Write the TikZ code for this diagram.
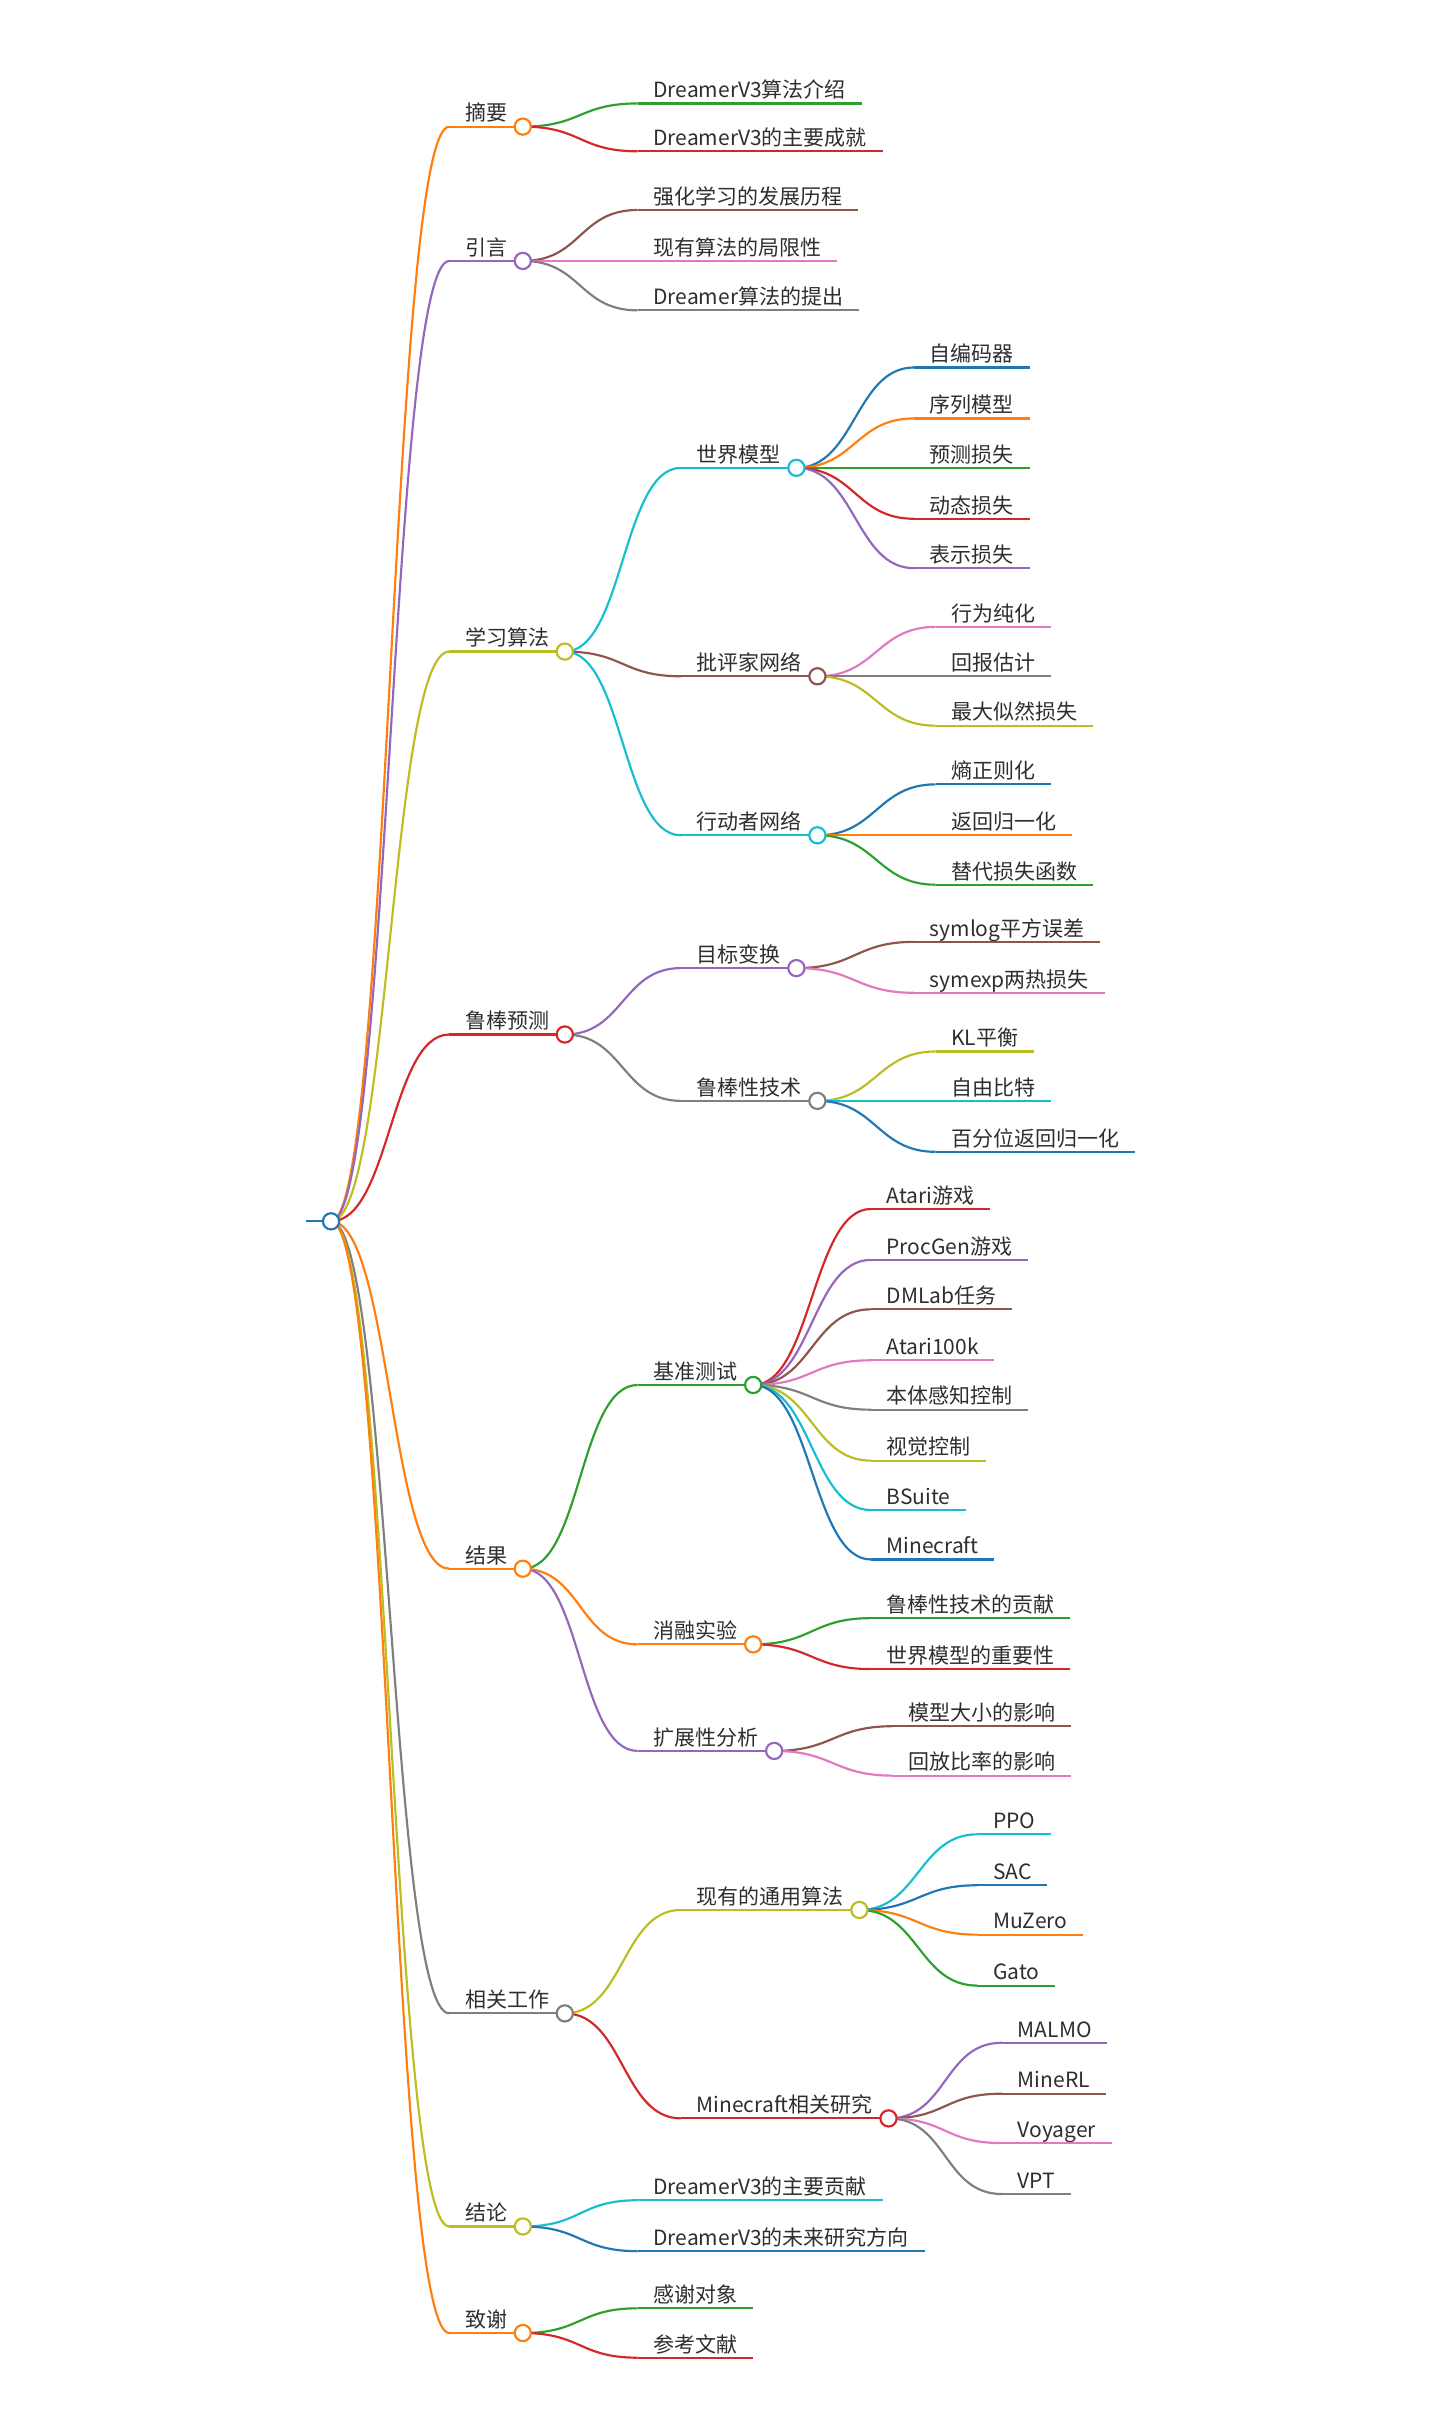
\documentclass[tikz,border=0pt]{standalone}
\usepackage{fontspec}
\newfontfamily\cjk{Noto Sans CJK SC}
\definecolor{mmblue}{HTML}{1F77B4}
\definecolor{mmorange}{HTML}{FF7F0E}
\definecolor{mmgreen}{HTML}{2CA02C}
\definecolor{mmred}{HTML}{D62728}
\definecolor{mmpurple}{HTML}{9467BD}
\definecolor{mmbrown}{HTML}{8C564B}
\definecolor{mmpink}{HTML}{E377C2}
\definecolor{mmgray}{HTML}{7F7F7F}
\definecolor{mmolive}{HTML}{BCBD22}
\definecolor{mmcyan}{HTML}{17BECF}
\definecolor{textgray}{HTML}{2E2E2E}

\begin{document}
\begin{tikzpicture}[x=1pt,y=-1pt,
mmnode/.style={anchor=south west, font=\cjk\fontsize{13.6}{16}\selectfont, text=textgray,
  inner xsep=10pt, inner ysep=3.5pt, text height=11pt, text depth=0pt},
mmline/.style={line width=1.4pt, draw=#1},
mmlink/.style={line width=1.4pt, draw=#1},
mmdot/.style={circle, draw=#1, fill=white, line width=1.4pt, minimum size=10.5pt, inner sep=0pt},]
\useasboundingbox (0,0) rectangle (933,1568);

\node[mmnode, inner xsep=8pt] (root) at (198,791) {};

\node[mmnode] (abstract) at (291,82)   {摘要};
\node[mmnode] (intro)    at (291,169)  {引言};
\node[mmnode] (learning) at (291,422)  {学习算法};
\node[mmnode] (robust)   at (291,670)  {鲁棒预测};
\node[mmnode] (results)  at (291,1016) {结果};
\node[mmnode] (related)  at (291,1304) {相关工作};
\node[mmnode] (concl)    at (291,1442) {结论};
\node[mmnode] (thanks)   at (291,1511) {致谢};

\node[mmnode] (v3intro)  at (413,67)   {DreamerV3算法介绍};
\node[mmnode] (v3ach)    at (413,98)   {DreamerV3的主要成就};
\node[mmnode] (rlhist)   at (413,136)  {强化学习的发展历程};
\node[mmnode] (limits)   at (413,169)  {现有算法的局限性};
\node[mmnode] (dreamer)  at (413,201)  {Dreamer算法的提出};
\node[mmnode] (world)    at (441,303)  {世界模型};
\node[mmnode] (critic)   at (441,438)  {批评家网络};
\node[mmnode] (actor)    at (441,541)  {行动者网络};
\node[mmnode] (target)   at (441,627)  {目标变换};
\node[mmnode] (robtech)  at (441,713)  {鲁棒性技术};
\node[mmnode] (bench)    at (413,897)  {基准测试};
\node[mmnode] (ablation) at (413,1065) {消融实验};
\node[mmnode] (scaling)  at (413,1134) {扩展性分析};
\node[mmnode] (general)  at (441,1237) {现有的通用算法};
\node[mmnode] (mcrel)    at (441,1372) {Minecraft相关研究};
\node[mmnode] (contrib)  at (413,1425) {DreamerV3的主要贡献};
\node[mmnode] (future)   at (413,1458) {DreamerV3的未来研究方向};
\node[mmnode] (ack)      at (413,1495) {感谢对象};
\node[mmnode] (refs)     at (413,1527) {参考文献};

\node[mmnode] (autoenc)  at (592,238)  {自编码器};
\node[mmnode] (seqmod)   at (592,271)  {序列模型};
\node[mmnode] (predloss) at (592,303)  {预测损失};
\node[mmnode] (dynloss)  at (592,336)  {动态损失};
\node[mmnode] (reploss)  at (592,368)  {表示损失};
\node[mmnode] (behav)    at (606,406)  {行为纯化};
\node[mmnode] (retest)   at (606,438)  {回报估计};
\node[mmnode] (mle)      at (606,470)  {最大似然损失};
\node[mmnode] (entropy)  at (606,508)  {熵正则化};
\node[mmnode] (retnorm)  at (606,541)  {返回归一化};
\node[mmnode] (surr)     at (606,573)  {替代损失函数};
\node[mmnode] (symlog)   at (592,610)  {symlog平方误差};
\node[mmnode] (symexp)   at (592,643)  {symexp两热损失};
\node[mmnode] (klbal)    at (606,681)  {KL平衡};
\node[mmnode] (freebits) at (606,713)  {自由比特};
\node[mmnode] (pctnorm)  at (606,746)  {百分位返回归一化};
\node[mmnode] (atari)    at (564,783)  {Atari游戏};
\node[mmnode] (procgen)  at (564,816)  {ProcGen游戏};
\node[mmnode] (dmlab)    at (564,848)  {DMLab任务};
\node[mmnode] (atarik)   at (564,881)  {Atari100k};
\node[mmnode] (proprio)  at (564,913)  {本体感知控制};
\node[mmnode] (visual)   at (564,946)  {视觉控制};
\node[mmnode] (bsuite)   at (564,978)  {BSuite};
\node[mmnode] (minecraft) at (564,1010) {Minecraft};
\node[mmnode] (robcontr) at (564,1048) {鲁棒性技术的贡献};
\node[mmnode] (wmimp)    at (564,1081) {世界模型的重要性};
\node[mmnode] (msize)    at (578,1118) {模型大小的影响};
\node[mmnode] (replay)   at (578,1150) {回放比率的影响};
\node[mmnode] (ppo)      at (633,1188) {PPO};
\node[mmnode] (sac)      at (633,1221) {SAC};
\node[mmnode] (muzero)   at (633,1253) {MuZero};
\node[mmnode] (gato)     at (633,1286) {Gato};
\node[mmnode] (malmo)    at (649,1323) {MALMO};
\node[mmnode] (minerl)   at (649,1356) {MineRL};
\node[mmnode] (voyager)  at (649,1388) {Voyager};
\node[mmnode] (vpt)      at (649,1421) {VPT};

\foreach \p/\c/\col in {
  root/abstract/mmorange, root/intro/mmpurple, root/learning/mmolive, root/robust/mmred,
  root/results/mmorange, root/related/mmgray, root/concl/mmolive, root/thanks/mmorange,
  abstract/v3intro/mmgreen, abstract/v3ach/mmred,
  intro/rlhist/mmbrown, intro/limits/mmpink, intro/dreamer/mmgray,
  learning/world/mmcyan, learning/critic/mmbrown, learning/actor/mmcyan,
  robust/target/mmpurple, robust/robtech/mmgray,
  results/bench/mmgreen, results/ablation/mmorange, results/scaling/mmpurple,
  related/general/mmolive, related/mcrel/mmred,
  concl/contrib/mmcyan, concl/future/mmblue,
  thanks/ack/mmgreen, thanks/refs/mmred,
  world/autoenc/mmblue, world/seqmod/mmorange, world/predloss/mmgreen,
  world/dynloss/mmred, world/reploss/mmpurple,
  critic/behav/mmpink, critic/retest/mmgray, critic/mle/mmolive,
  actor/entropy/mmblue, actor/retnorm/mmorange, actor/surr/mmgreen,
  target/symlog/mmbrown, target/symexp/mmpink,
  robtech/klbal/mmolive, robtech/freebits/mmcyan, robtech/pctnorm/mmblue,
  bench/atari/mmred, bench/procgen/mmpurple, bench/dmlab/mmbrown, bench/atarik/mmpink,
  bench/proprio/mmgray, bench/visual/mmolive, bench/bsuite/mmcyan, bench/minecraft/mmblue,
  ablation/robcontr/mmgreen, ablation/wmimp/mmred,
  scaling/msize/mmbrown, scaling/replay/mmpink,
  general/ppo/mmcyan, general/sac/mmblue, general/muzero/mmorange, general/gato/mmgreen,
  mcrel/malmo/mmpurple, mcrel/minerl/mmbrown, mcrel/voyager/mmpink, mcrel/vpt/mmgray}
{
  \draw[mmlink=\col] (\p.south east) .. controls +(38,0) and +(-38,0) .. (\c.south west);
  \draw[mmline=\col] (\c.south west) -- (\c.south east);
}
\draw[mmline=mmblue] (root.south west) -- (root.south east);

\foreach \n/\col in {root/mmblue, abstract/mmorange, intro/mmpurple, learning/mmolive,
  robust/mmred, results/mmorange, related/mmgray, concl/mmolive, thanks/mmorange,
  world/mmcyan, critic/mmbrown, actor/mmcyan, target/mmpurple, robtech/mmgray,
  bench/mmgreen, ablation/mmorange, scaling/mmpurple, general/mmolive, mcrel/mmred}
  \node[mmdot=\col] (\n-dot) at (\n.south east) {};

\end{tikzpicture}
\end{document}
